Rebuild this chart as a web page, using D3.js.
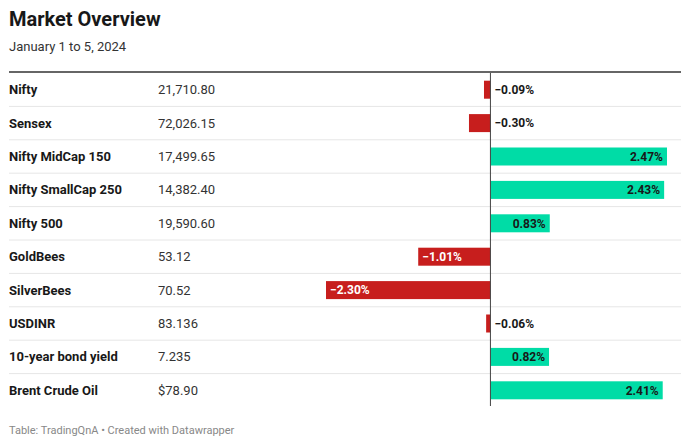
<!DOCTYPE html>
<html><head><meta charset="utf-8">
<script src="https://cdn.jsdelivr.net/npm/d3@7"></script>
<style>body{margin:0;background:#fff;font-family:Roboto,sans-serif;}</style>
</head><body><svg id="c" width="690" height="445"></svg>
<script>
const names = ["Nifty","Sensex","Nifty MidCap 150","Nifty SmallCap 250","Nifty 500","GoldBees","SilverBees","USDINR","10-year bond yield","Brent Crude Oil"];
const prices = ["21,710.80","72,026.15","17,499.65","14,382.40","19,590.60","53.12","70.52","83.136","7.235","$78.90"];
const changes = [-0.09,-0.30,2.47,2.43,0.83,-1.01,-2.30,-0.06,0.82,2.41];

const svg = d3.select("#c");
const left = 9, right = 681, top0 = 73, rowH = 33.4;
svg.append("text").attr("x",9).attr("y",26).attr("font-size",20).attr("font-weight",700).attr("fill","#181818").text("Market Overview");
svg.append("text").attr("x",9).attr("y",51).attr("font-size",13).attr("fill","#333").text("January 1 to 5, 2024");

const y = d3.scaleBand().domain(d3.range(names.length)).range([top0, top0+rowH*names.length]);
const x = d3.scaleLinear().domain([-2.30, 2.47]).range([326, 667]);

// separators
svg.selectAll("line.sep").data(d3.range(1,names.length)).join("line")
  .attr("x1",left).attr("x2",right).attr("y1",d=>y(d)).attr("y2",d=>y(d))
  .attr("stroke","#e6e6e6").attr("stroke-width",1);
svg.append("line").attr("x1",left).attr("x2",right).attr("y1",72).attr("y2",72).attr("stroke","#333").attr("stroke-width",1.3);

const g = svg.selectAll("g.row").data(names.map((n,i)=>({n,p:prices[i],c:changes[i],i}))).join("g");
g.append("text").attr("x",9).attr("y",d=>y(d.i)+rowH/2+4.5).attr("font-size",13).attr("font-weight",700).attr("fill","#181818").text(d=>d.n);
g.append("text").attr("x",158).attr("y",d=>y(d.i)+rowH/2+4.5).attr("font-size",13).attr("fill","#333").text(d=>d.p);
const bh = 18;
g.append("rect").attr("x",d=>Math.min(x(0),x(d.c))).attr("width",d=>Math.abs(x(d.c)-x(0)))
  .attr("y",d=>y(d.i)+rowH/2-bh/2).attr("height",bh)
  .attr("fill",d=>d.c<0?"#c71e1d":"#00dca6");

const fmt = v => (v<0?"\u2212":"") + Math.abs(v).toFixed(2) + "%";
g.append("text").attr("font-size",12).attr("font-weight",700)
  .attr("y",d=>y(d.i)+rowH/2+4.3)
  .each(function(d){
    const w = Math.abs(x(d.c)-x(0));
    const t = d3.select(this).text(fmt(d.c));
    const inside = w > 45;
    if(inside){
      if(d.c<0){ t.attr("x",x(d.c)+4).attr("text-anchor","start").attr("fill","#fff"); }
      else { t.attr("x",x(d.c)-4).attr("text-anchor","end").attr("fill","#181818"); }
    } else {
      t.attr("x",x(0)+4).attr("text-anchor","start").attr("fill","#181818");
    }
  });

svg.append("line").attr("x1",x(0)).attr("x2",x(0)).attr("y1",73).attr("y2",406).attr("stroke","#444").attr("stroke-width",1);
svg.append("text").attr("x",9).attr("y",434).attr("font-size",11).attr("fill","#888").text("Table: TradingQnA \u2022 Created with Datawrapper");
</script></body></html>
